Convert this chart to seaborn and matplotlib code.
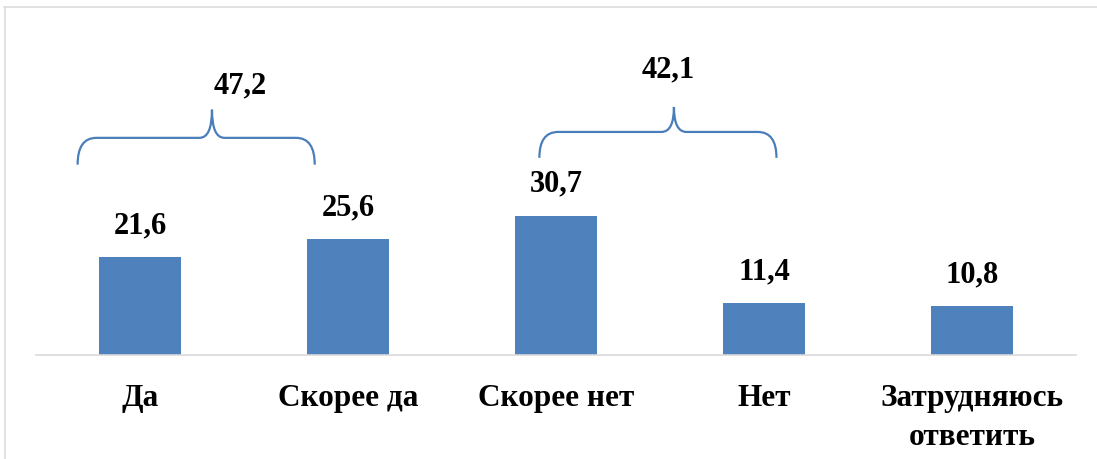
import matplotlib
matplotlib.use("Agg")
import matplotlib.pyplot as plt
from matplotlib.path import Path
from matplotlib.patches import PathPatch
from matplotlib.lines import Line2D
import seaborn as sns
import pandas as pd

categories = ["Да", "Скорее да", "Скорее нет", "Нет", "Затрудняюсь\nответить"]
values = [21.6, 25.6, 30.7, 11.4, 10.8]
groups = [(0, 1), (2, 3)]  # pairs joined by braces

BAR = "#4f81bd"
FONT = ["Liberation Serif", "DejaVu Serif"]

sns.set_theme(style="white")
plt.rcParams["font.family"] = FONT
plt.rcParams["font.weight"] = "bold"

df = pd.DataFrame({"cat": categories, "val": values})

fig = plt.figure(figsize=(10.97, 4.59), dpi=100)
ax = fig.add_axes([36 / 1097, 104 / 459, 1040 / 1097, 318 / 459])
sns.barplot(data=df, x="cat", y="val", color=BAR, width=0.39, ax=ax,
            saturation=1, edgecolor="none")
ax.set_xlim(-0.5, 4.5)
ax.set_ylim(0, 70)
ax.set_xlabel("")
ax.set_ylabel("")
ax.set_yticks([])
for s in ["left", "right", "top"]:
    ax.spines[s].set_visible(False)
ax.spines["bottom"].set_color("#d9d9d9")
ax.spines["bottom"].set_linewidth(1.2)
ax.tick_params(axis="x", length=0, pad=21)
for lab in ax.get_xticklabels():
    lab.set_fontsize(22.5)
    lab.set_fontweight("bold")
    lab.set_fontfamily(FONT)
    lab.set_linespacing(1.45)
    lab.set_color("black")

# value labels
for i, v in enumerate(values):
    ax.annotate(f"{v:.1f}".replace(".", ","), (i, v), xytext=(0, 22.5),
                textcoords="offset points", ha="center", va="center",
                fontsize=22, fontweight="bold", color="black", family=FONT)

# curly braces
brace_style = [
    dict(left=-0.30, right=-0.16, tipdx=0.076, yend=41.9, yh=47.8, ytip=54.0, lx=0.48, ly=59.3),
    dict(left=-0.08, right=0.06, tipdx=0.077, yend=43.4, yh=49.1, ytip=54.6, lx=2.54, ly=62.8),
]
dx, dt = 0.09, 0.06
for (i0, i1), st in zip(groups, brace_style):
    x0 = i0 + st["left"]
    x1 = i1 + st["right"]
    xt = (x0 + x1) / 2 + st["tipdx"]
    ye, yh, yt = st["yend"], st["yh"], st["ytip"]
    verts = [(x0, ye), (x0, yh), (x0 + dx, yh),
             (xt - dt, yh),
             (xt, yh), (xt, yt),
             (xt, yh), (xt + dt, yh),
             (x1 - dx, yh),
             (x1, yh), (x1, ye)]
    codes = [Path.MOVETO, Path.CURVE3, Path.CURVE3,
             Path.LINETO,
             Path.CURVE3, Path.CURVE3,
             Path.CURVE3, Path.CURVE3,
             Path.LINETO,
             Path.CURVE3, Path.CURVE3]
    ax.add_patch(PathPatch(Path(verts, codes), fill=False, edgecolor="#4a7ebb",
                           linewidth=1.6, clip_on=False))
    total = sum(values[i0:i1 + 1])
    ax.text(st["lx"], st["ly"], f"{total:.1f}".replace(".", ","), ha="center",
            va="center", fontsize=22, fontweight="bold", color="black",
            family=FONT, clip_on=False)

# outer frame (top and left edges)
fig.add_artist(Line2D([4 / 1097, 1], [1 - 7 / 459, 1 - 7 / 459],
                      transform=fig.transFigure, color="#dcdcdc", linewidth=1.2))
fig.add_artist(Line2D([5 / 1097, 5 / 1097], [0, 1 - 7 / 459],
                      transform=fig.transFigure, color="#dcdcdc", linewidth=1.2))

fig.savefig("out.png", dpi=100)
